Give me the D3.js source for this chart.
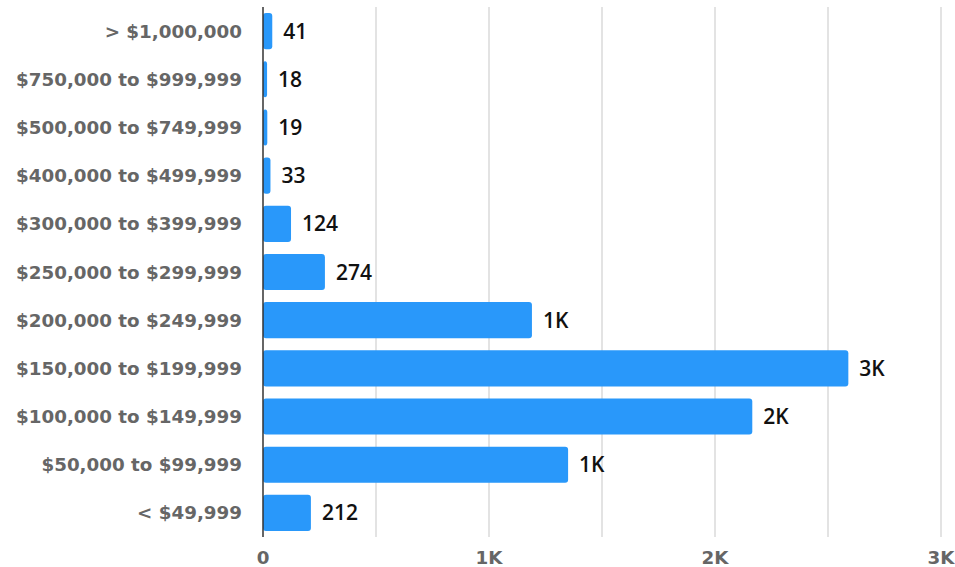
<!DOCTYPE html>
<html><head><meta charset="utf-8">
<script src="https://cdn.jsdelivr.net/npm/d3@7/dist/d3.min.js"></script>
<style>body{margin:0;background:#fff}</style>
</head><body><svg id="c" width="955" height="567"></svg>
<script>
const categories = ["> $1,000,000","$750,000 to $999,999","$500,000 to $749,999","$400,000 to $499,999","$300,000 to $399,999","$250,000 to $299,999","$200,000 to $249,999","$150,000 to $199,999","$100,000 to $149,999","$50,000 to $99,999","< $49,999"];
const values = [41,18,19,33,124,274,1190,2590,2165,1350,212];
const xTicks = [0,1000,2000,3000];
const gridTicks = [0,500,1000,1500,2000,2500,3000];

const svg = d3.select("#c");
const font = "'Open Sans', sans-serif";
const labelFont = "'DejaVu Sans', sans-serif";
const m = {left:263, right:941, top:7, bottom:537};
const x = d3.scaleLinear().domain([0,3000]).range([m.left, m.right]);
const y = d3.scaleBand().domain(categories).range([m.top, m.bottom]).paddingInner(0.25).paddingOuter(0.125);
const fmtTick = d => d===0 ? "0" : (d/1000)+"K";
const fmtVal = d => d < 1000 ? String(d) : d3.format(".1s")(d).replace("k","K");

svg.append("g").selectAll("line").data(gridTicks.slice(1)).join("line")
  .attr("x1", d=>x(d)).attr("x2", d=>x(d)).attr("y1", m.top).attr("y2", m.bottom)
  .attr("stroke","#e3e3e3").attr("stroke-width",2);

svg.append("g").selectAll("rect").data(values).join("rect")
  .attr("x", x(0)).attr("y", (d,i)=>y(categories[i]))
  .attr("width", d=>x(d)-x(0)).attr("height", y.bandwidth())
  .attr("rx",3).attr("fill","#2998fa");

svg.append("line").attr("x1",x(0)).attr("x2",x(0)).attr("y1",m.top).attr("y2",m.bottom)
  .attr("stroke","#333").attr("stroke-width",1.5);

svg.append("g").selectAll("text").data(values).join("text")
  .attr("x", d=>x(d)+11).attr("y",(d,i)=>y(categories[i])+y.bandwidth()/2)
  .attr("dy","0.36em").attr("font-family",font).attr("font-weight",600).attr("font-size",21)
  .attr("fill","#111").text(fmtVal);

svg.append("g").selectAll("text").data(categories).join("text")
  .attr("x", 242).attr("y", d=>y(d)+y.bandwidth()/2).attr("dy","0.36em")
  .attr("text-anchor","end").attr("font-family",labelFont).attr("font-weight",700).attr("font-size",18.3)
  .attr("fill","#666").text(d=>d);

svg.append("g").selectAll("text").data(xTicks).join("text")
  .attr("x", d=>x(d)).attr("y", 557).attr("dy","0.36em").attr("text-anchor","middle")
  .attr("font-family",labelFont).attr("font-weight",700).attr("font-size",18.3)
  .attr("fill","#666").text(fmtTick);
</script></body></html>
